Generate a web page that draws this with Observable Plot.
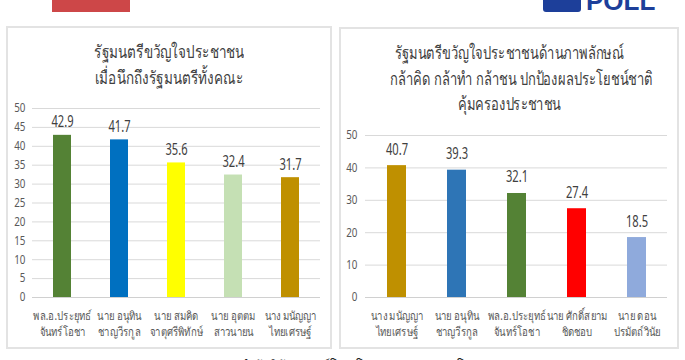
<!DOCTYPE html>
<html>
<head>
<meta charset="utf-8">
<script src="https://cdn.jsdelivr.net/npm/d3@7"></script>
<script src="https://cdn.jsdelivr.net/npm/@observablehq/plot@0.6"></script>
<style>
  html, body { margin: 0; padding: 0; background: #fff; }
  body { width: 685px; height: 360px; position: relative; overflow: hidden;
         font-family: "Liberation Sans Narrow", "Noto Sans", "DejaVu Sans", sans-serif; }
  .abs { position: absolute; }
  .panel { position: absolute; border: 2px solid #e3e3e3; box-sizing: border-box; }
  .title { position: absolute; text-align: center; color: #404040; font-size: 18px; line-height: 25.5px; }
  .title span { display: inline-block; white-space: nowrap; transform-origin: center; }
  #t1 span { transform: scaleX(0.75); }
  #t2 span { transform: scaleX(0.72); }
  .chart { position: absolute; }
</style>
</head>
<body>
<div class="abs" style="left:52px;top:0;width:78px;height:12px;background:#cd4748;"></div>
<div class="abs" style="left:543px;top:-6px;width:38px;height:18px;background:#1d3f9a;border-radius:3px;"></div>
<div class="abs" style="left:586px;top:-14px;font:bold 26px 'Liberation Sans', sans-serif;color:#1d3f9a;letter-spacing:0px;">POLL</div>

<div class="panel" style="left:6px;top:26px;width:326px;height:323px;"></div>
<div class="panel" style="left:339px;top:27px;width:340px;height:322px;"></div>

<div class="title" id="t1" style="left:6px;top:39px;width:326px;"></div>
<div class="title" id="t2" style="left:339px;top:40px;width:340px;"></div>

<div class="chart" id="c1" style="left:0;top:95px;"></div>
<div class="chart" id="c2" style="left:340px;top:120px;"></div>

<div class="abs" id="foot" style="left:240px;top:355px;font-size:13px;color:#222;white-space:nowrap;transform:scaleX(0.95);transform-origin:left;"></div>

<script>
// ---- data ----
const leftTitle = ["รัฐมนตรีขวัญใจประชาชน", "เมื่อนึกถึงรัฐมนตรีทั้งคณะ"];
const leftNames = ["พล.อ.ประยุทธ์ จันทร์โอชา", "นาย อนุทิน ชาญวีรกูล", "นาย สมคิด จาตุศรีพิทักษ์", "นาย อุตตม สาวนายน", "นาง มนัญญา ไทยเศรษฐ์"];
const leftValues = [42.9, 41.7, 35.6, 32.4, 31.7];
const leftColors = ["#548235", "#0070c0", "#ffff00", "#c5e0b4", "#bf9000"];
const leftTicks = [0, 5, 10, 15, 20, 25, 30, 35, 40, 45, 50];

const rightTitle = ["รัฐมนตรีขวัญใจประชาชนด้านภาพลักษณ์", "กล้าคิด กล้าทำ กล้าชน ปกป้องผลประโยชน์ชาติ", "คุ้มครองประชาชน"];
const rightNames = ["นาง มนัญญา ไทยเศรษฐ์", "นาย อนุทิน ชาญวีรกูล", "พล.อ.ประยุทธ์ จันทร์โอชา", "นาย ศักดิ์สยาม ชิดชอบ", "นาย ดอน ปรมัตถ์วินัย"];
const rightValues = [40.7, 39.3, 32.1, 27.4, 18.5];
const rightColors = ["#bf9000", "#2e75b6", "#548235", "#ff0000", "#8faadc"];
const rightTicks = [0, 10, 20, 30, 40, 50];

const footer = "สำนักวิจัย ซูเปอร์โพล โทร 02 951 5000, โทร. 094 334 0040";

// ---- drawing ----
const setTitle = (id, lines) => {
  const el = document.getElementById(id);
  lines.forEach((l, i) => {
    if (i) el.appendChild(document.createElement("br"));
    const s = document.createElement("span"); s.textContent = l; el.appendChild(s);
  });
};
setTitle("t1", leftTitle);
setTitle("t2", rightTitle);
document.getElementById("foot").textContent = footer;

const twoLines = d => { const i = d.lastIndexOf(" "); return d.slice(0, i) + "\n" + d.slice(i + 1); };
const FONT = "'Liberation Sans Narrow', 'Noto Sans', 'DejaVu Sans', sans-serif";

function condense(sel, s) {
  sel.each(function () {
    const t = d3.select(this);
    let tr = t.attr("transform");
    if (!tr) {
      const x = +(t.attr("x") || 0), y = +(t.attr("y") || 0);
      t.attr("x", null).attr("y", null);
      tr = `translate(${x},${y})`;
    }
    t.attr("transform", tr + ` scale(${s},1)`);
  });
}

function chart(names, values, colors, ticks, opts) {
  const data = names.map((n, i) => ({name: n, value: values[i], color: colors[i]}));
  const svg = Plot.plot({
    width: opts.width, height: opts.height,
    marginTop: opts.mt, marginBottom: opts.mb, marginLeft: opts.ml, marginRight: opts.mr,
    style: {fontFamily: FONT, background: "transparent", overflow: "visible"},
    x: {domain: names, paddingInner: 0.69, paddingOuter: 0.345, label: null},
    y: {domain: [0, 50], label: null},
    color: {type: "identity"},
    marks: [
      Plot.gridY(ticks, {stroke: "#d9d9d9", strokeOpacity: 1, strokeWidth: 1}),
      Plot.axisY(ticks, {tickSize: 0, tickPadding: opts.ytp, fontSize: 12, fill: "#595959", label: null}),
      Plot.axisX({tickSize: 0, tickPadding: 12, fontSize: 12, fill: "#595959", lineHeight: 1.27, tickFormat: twoLines, label: null}),
      Plot.barY(data, {x: "name", y: "value", fill: "color"}),
      Plot.ruleY([0], {stroke: "#d0d0d0"}),
      Plot.text(data, {x: "name", y: "value", text: d => d.value.toFixed(1), dy: opts.dy, lineAnchor: "bottom", fontSize: 15.5, fill: "#404040", className: "vlabel"})
    ]
  });
  const root = d3.select(svg);
  condense(root.selectAll("g[aria-label='text'] text, .vlabel text"), 0.72);
  condense(root.selectAll("g[aria-label='x-axis tick label'] text"), 0.8);
  condense(root.selectAll("g[aria-label='y-axis tick label'] text"), 0.82);
  return svg;
}

document.getElementById("c1").appendChild(chart(leftNames, leftValues, leftColors, leftTicks,
  {width: 335, height: 250, mt: 13, mb: 48, ml: 32, mr: 15, ytp: 7, dy: -8}));
document.getElementById("c2").appendChild(chart(rightNames, rightValues, rightColors, rightTicks,
  {width: 335, height: 225, mt: 15, mb: 48, ml: 25, mr: 8, ytp: 8, dy: -11}));
</script>
</body>
</html>
